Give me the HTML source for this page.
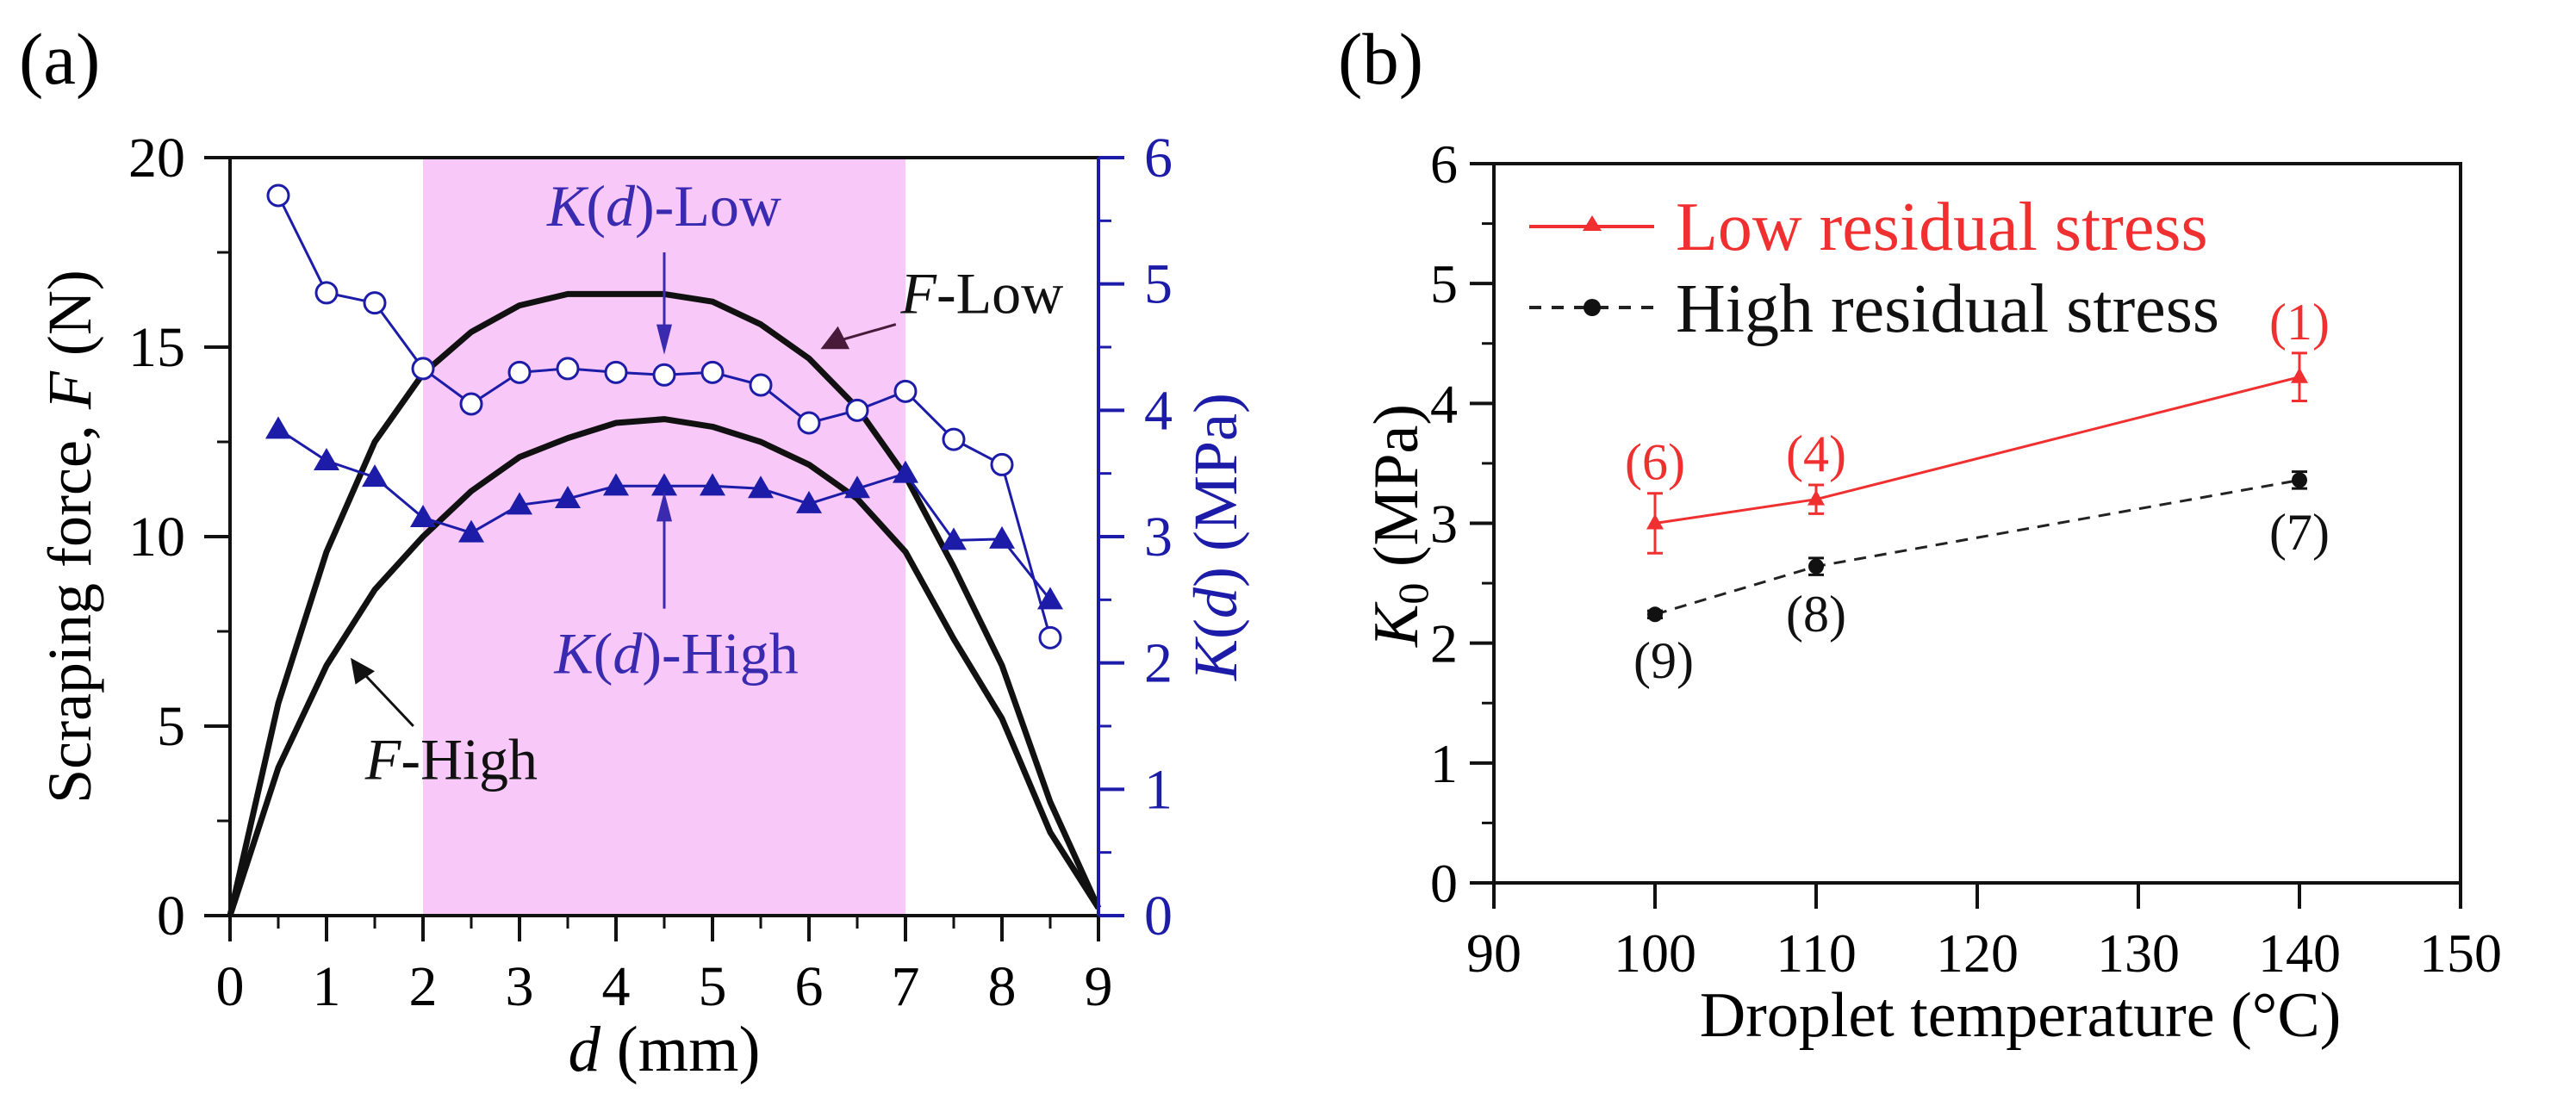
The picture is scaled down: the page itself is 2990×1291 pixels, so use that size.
<!DOCTYPE html>
<html><head><meta charset="utf-8"><style>
html,body{margin:0;padding:0;background:#fff;overflow:hidden;}
svg{display:block;font-family:"Liberation Serif",serif;}
</style></head><body>
<svg id="fig" width="2990" height="1291" viewBox="0 0 2990 1291" xmlns="http://www.w3.org/2000/svg">
<text x="22" y="97" font-size="85">(a)</text>
<text x="1553" y="97" font-size="85">(b)</text>
<g id="ga"></g><g id="gb"></g>
</svg>
<script>
// ---- Panel (a) data ----
const dGrid=[0,0.5,1,1.5,2,2.5,3,3.5,4,4.5,5,5.5,6,6.5,7,7.5,8,8.5,9];
const fLow=[0,5.6,9.6,12.5,14.3,15.4,16.1,16.4,16.4,16.4,16.2,15.6,14.7,13.4,11.6,9.2,6.6,3.0,0.2];
const fHigh=[0,3.9,6.6,8.6,10.0,11.2,12.1,12.6,13.0,13.1,12.9,12.5,11.9,11.0,9.6,7.3,5.2,2.2,0.2];
const kD=[0.5,1,1.5,2,2.5,3,3.5,4,4.5,5,5.5,6,6.5,7,7.5,8,8.5];
const kLow=[5.7,4.93,4.85,4.33,4.05,4.3,4.33,4.3,4.28,4.3,4.2,3.9,4.0,4.15,3.77,3.57,2.2];
const kHigh=[3.85,3.6,3.47,3.15,3.03,3.25,3.3,3.4,3.4,3.4,3.38,3.26,3.38,3.5,2.97,2.98,2.5];
const xTicksA=[0,1,2,3,4,5,6,7,8,9];
const yTicksA=[0,5,10,15,20];
const y2TicksA=[0,1,2,3,4,5,6];
// ---- Panel (b) data ----
const temps=[100,110,140];
const k0Low=[3.0,3.2,4.22];
const k0LowErr=[0.25,0.12,0.2];
const k0High=[2.24,2.64,3.36];
const k0HighErr=[0.03,0.07,0.07];
const lowLabels=["(6)","(4)","(1)"];
const highLabels=["(9)","(8)","(7)"];
const xTicksB=[90,100,110,120,130,140,150];
const yTicksB=[0,1,2,3,4,5,6];

const NS="http://www.w3.org/2000/svg";
function mk(p,tag,attrs,txt){const e=document.createElementNS(NS,tag);for(const k in attrs)e.setAttribute(k,attrs[k]);if(txt!==undefined)e.textContent=txt;p.appendChild(e);return e;}
const BLUE="#1c1ca8", LBL="#3a2ab0";

// Panel a
const ga=document.getElementById('ga');
const AX0=267,AX1=1275,AYT=183,AYB=1063;
const ax=v=>AX0+v*(AX1-AX0)/9;
const ay=v=>AYB-v*(AYB-AYT)/20;
const ay2=v=>AYB-v*(AYB-AYT)/6;
let r=mk(ga,'rect',{x:ax(2),y:AYT,width:ax(7)-ax(2),height:AYB-AYT,fill:'#f8c8f8'});


function path(g,xs,ys,fx,fy,attrs,name){let d='';xs.forEach((x,i)=>{d+=(i?'L':'M')+fx(x).toFixed(1)+','+fy(ys[i]).toFixed(1);});const p=mk(g,'path',Object.assign({d:d,fill:'none'},attrs));return p;}
path(ga,dGrid,fLow,ax,ay,{stroke:'#111',"stroke-width":7,"stroke-linejoin":"round"},'f-low-line');
path(ga,dGrid,fHigh,ax,ay,{stroke:'#111',"stroke-width":7,"stroke-linejoin":"round"},'f-high-line');
path(ga,kD,kLow,ax,ay2,{stroke:BLUE,"stroke-width":3},'k-low-line');
path(ga,kD,kHigh,ax,ay2,{stroke:BLUE,"stroke-width":3},'k-high-line');
kD.forEach((d,i)=>{const c=mk(ga,'circle',{cx:ax(d),cy:ay2(kLow[i]),r:12,fill:'#fff',stroke:BLUE,"stroke-width":3});


const x=ax(d),y=ay2(kHigh[i]);const t=mk(ga,'polygon',{points:`${x},${y-15} ${x-15},${y+11} ${x+15},${y+11}`,fill:BLUE});

});
mk(ga,'rect',{x:AX0,y:AYT,width:AX1-AX0,height:AYB-AYT,fill:'none',stroke:'#111',"stroke-width":4});
mk(ga,'line',{x1:AX1,y1:AYT,x2:AX1,y2:AYB,stroke:BLUE,"stroke-width":4});
xTicksA.forEach(v=>{mk(ga,'line',{x1:ax(v),y1:AYB,x2:ax(v),y2:AYB+30,stroke:'#111',"stroke-width":4});
if(v<9)mk(ga,'line',{x1:ax(v+0.5),y1:AYB,x2:ax(v+0.5),y2:AYB+15,stroke:'#111',"stroke-width":3});
const t=mk(ga,'text',{x:ax(v),y:1167,"font-size":66,"text-anchor":"middle"},v);

});
yTicksA.forEach(v=>{mk(ga,'line',{x1:AX0-30,y1:ay(v),x2:AX0,y2:ay(v),stroke:'#111',"stroke-width":4});
if(v<20)mk(ga,'line',{x1:AX0-15,y1:ay(v+2.5),x2:AX0,y2:ay(v+2.5),stroke:'#111',"stroke-width":3});
const t=mk(ga,'text',{x:AX0-52,y:ay(v)+22,"font-size":66,"text-anchor":"end"},v);

});
y2TicksA.forEach(v=>{mk(ga,'line',{x1:AX1,y1:ay2(v),x2:AX1+30,y2:ay2(v),stroke:BLUE,"stroke-width":4});
if(v<6)mk(ga,'line',{x1:AX1,y1:ay2(v+0.5),x2:AX1+15,y2:ay2(v+0.5),stroke:BLUE,"stroke-width":3});
const t=mk(ga,'text',{x:1328,y:ay2(v)+22,"font-size":66,fill:BLUE},v);

});
ga.insertAdjacentHTML('beforeend',`
<text x="771" y="1243" font-size="75" text-anchor="middle"><tspan font-style="italic">d</tspan> (mm)</text>
<text transform="translate(105,623) rotate(-90)" font-size="72" text-anchor="middle">Scraping force, <tspan font-style="italic">F</tspan> (N)</text>
<text transform="translate(1435,623) rotate(-90)" font-size="72" text-anchor="middle" fill="${BLUE}"><tspan font-style="italic">K</tspan>(<tspan font-style="italic">d</tspan>) (MPa)</text>
<text x="771" y="${ay(18.2)}" font-size="68" text-anchor="middle" fill="${LBL}"><tspan font-style="italic">K</tspan>(<tspan font-style="italic">d</tspan>)-Low</text>
<line x1="771" y1="${ay(17.5)}" x2="771" y2="${ay(15.3)}" stroke="${LBL}" stroke-width="3"/><polygon points="771,${ay(14.8)} 762,${ay(15.6)} 780,${ay(15.6)}" fill="${LBL}"/>
<text x="785" y="${ay(6.4)}" font-size="68" text-anchor="middle" fill="${LBL}"><tspan font-style="italic">K</tspan>(<tspan font-style="italic">d</tspan>)-High</text>
<line x1="771" y1="${ay(8.1)}" x2="771" y2="${ay(10.6)}" stroke="${LBL}" stroke-width="3"/><polygon points="771,${ay(11.2)} 762,${ay(10.4)} 780,${ay(10.4)}" fill="${LBL}"/>
<text x="${ax(6.95)}" y="${ay(15.9)}" font-size="68" fill="#111"><tspan font-style="italic">F</tspan>-Low</text>
<line x1="${ax(6.9)}" y1="${ay(15.6)}" x2="${ax(6.35)}" y2="${ay(15.2)}" stroke="#4a1a3a" stroke-width="3"/><polygon points="${ax(6.12)},${ay(14.95)} ${ax(6.3)},${ay(15.55)} ${ax(6.42)},${ay(14.95)}" fill="#4a1a3a"/>
<text x="${ax(1.4)}" y="${ay(3.6)}" font-size="68" fill="#111"><tspan font-style="italic">F</tspan>-High</text>
<line x1="${ax(1.9)}" y1="${ay(5.0)}" x2="${ax(1.38)}" y2="${ay(6.4)}" stroke="#111" stroke-width="3"/><polygon points="${ax(1.25)},${ay(6.8)} ${ax(1.3)},${ay(6.1)} ${ax(1.5)},${ay(6.45)}" fill="#111"/>
`);

// Panel b
const gb=document.getElementById('gb');
const BX0=1734,BX1=2856,BYT=190,BYB=1025;
const bx=v=>BX0+(v-90)*(BX1-BX0)/60;
const by=v=>BYB-v*(BYB-BYT)/6;
mk(gb,'rect',{x:BX0,y:BYT,width:BX1-BX0,height:BYB-BYT,fill:'none',stroke:'#111',"stroke-width":4});
xTicksB.forEach(v=>{mk(gb,'line',{x1:bx(v),y1:BYB,x2:bx(v),y2:BYB+30,stroke:'#111',"stroke-width":4});
const t=mk(gb,'text',{x:bx(v),y:1128,"font-size":64,"text-anchor":"middle"},v);

});
yTicksB.forEach(v=>{mk(gb,'line',{x1:BX0-28,y1:by(v),x2:BX0,y2:by(v),stroke:'#111',"stroke-width":4});
if(v<6)mk(gb,'line',{x1:BX0-14,y1:by(v+0.5),x2:BX0,y2:by(v+0.5),stroke:'#111',"stroke-width":3});
const t=mk(gb,'text',{x:BX0-42,y:by(v)+22,"font-size":64,"text-anchor":"end"},v);

});
path(gb,temps,k0High,bx,by,{stroke:'#222',"stroke-width":3,"stroke-dasharray":"14,10"},'high-stress-line');
path(gb,temps,k0Low,bx,by,{stroke:'#f03030',"stroke-width":3},'low-stress-line');
const hiDy=[1.71,2.1,2.78];
temps.forEach((t,i)=>{
 const x=bx(t);
 [[k0Low,k0LowErr,'#f03030'],[k0High,k0HighErr,'#111']].forEach(([v,e,c])=>{
  const y1=by(v[i]-e[i]),y2=by(v[i]+e[i]);
  mk(gb,'line',{x1:x,y1:y1,x2:x,y2:y2,stroke:c,"stroke-width":3});
  mk(gb,'line',{x1:x-9,y1:y1,x2:x+9,y2:y1,stroke:c,"stroke-width":3});
  mk(gb,'line',{x1:x-9,y1:y2,x2:x+9,y2:y2,stroke:c,"stroke-width":3});
 });
 const y=by(k0Low[i]);
 const m=mk(gb,'polygon',{points:`${x},${y-11} ${x-10},${y+7} ${x+10},${y+7}`,fill:'#f03030'});
 
 
 const c=mk(gb,'circle',{cx:x,cy:by(k0High[i]),r:9,fill:'#111'});
 
 
 const lt=mk(gb,'text',{x:x,y:by(k0Low[i]+k0LowErr[i])-16,"font-size":60,fill:'#f03030',"text-anchor":"middle"},lowLabels[i]);
 
 
 const ht=mk(gb,'text',{x:x+(i==0?10:0),y:by(hiDy[i]),"font-size":60,fill:'#111',"text-anchor":"middle"},highLabels[i]);
 
 
});
gb.insertAdjacentHTML('beforeend',`
<g>
<line x1="1775" y1="263" x2="1920" y2="263" stroke="#f03030" stroke-width="4"/><polygon points="1848,250 1837,268 1859,268" fill="#f03030"/>
<text x="1945" y="290" font-size="80" fill="#f03030">Low residual stress</text>
<line x1="1775" y1="357" x2="1920" y2="357" stroke="#222" stroke-width="4" stroke-dasharray="14,12"/><circle cx="1848" cy="357" r="10" fill="#111"/>
<text x="1945" y="385" font-size="80" fill="#111">High residual stress</text>
</g>
<text x="2345" y="1203" font-size="74" text-anchor="middle">Droplet temperature (°C)</text>
<text transform="translate(1645,610) rotate(-90)" font-size="74" text-anchor="middle"><tspan font-style="italic">K</tspan><tspan font-size="50" dy="12">0</tspan><tspan dy="-12"> (MPa)</tspan></text>
`);
</script>
</body></html>
